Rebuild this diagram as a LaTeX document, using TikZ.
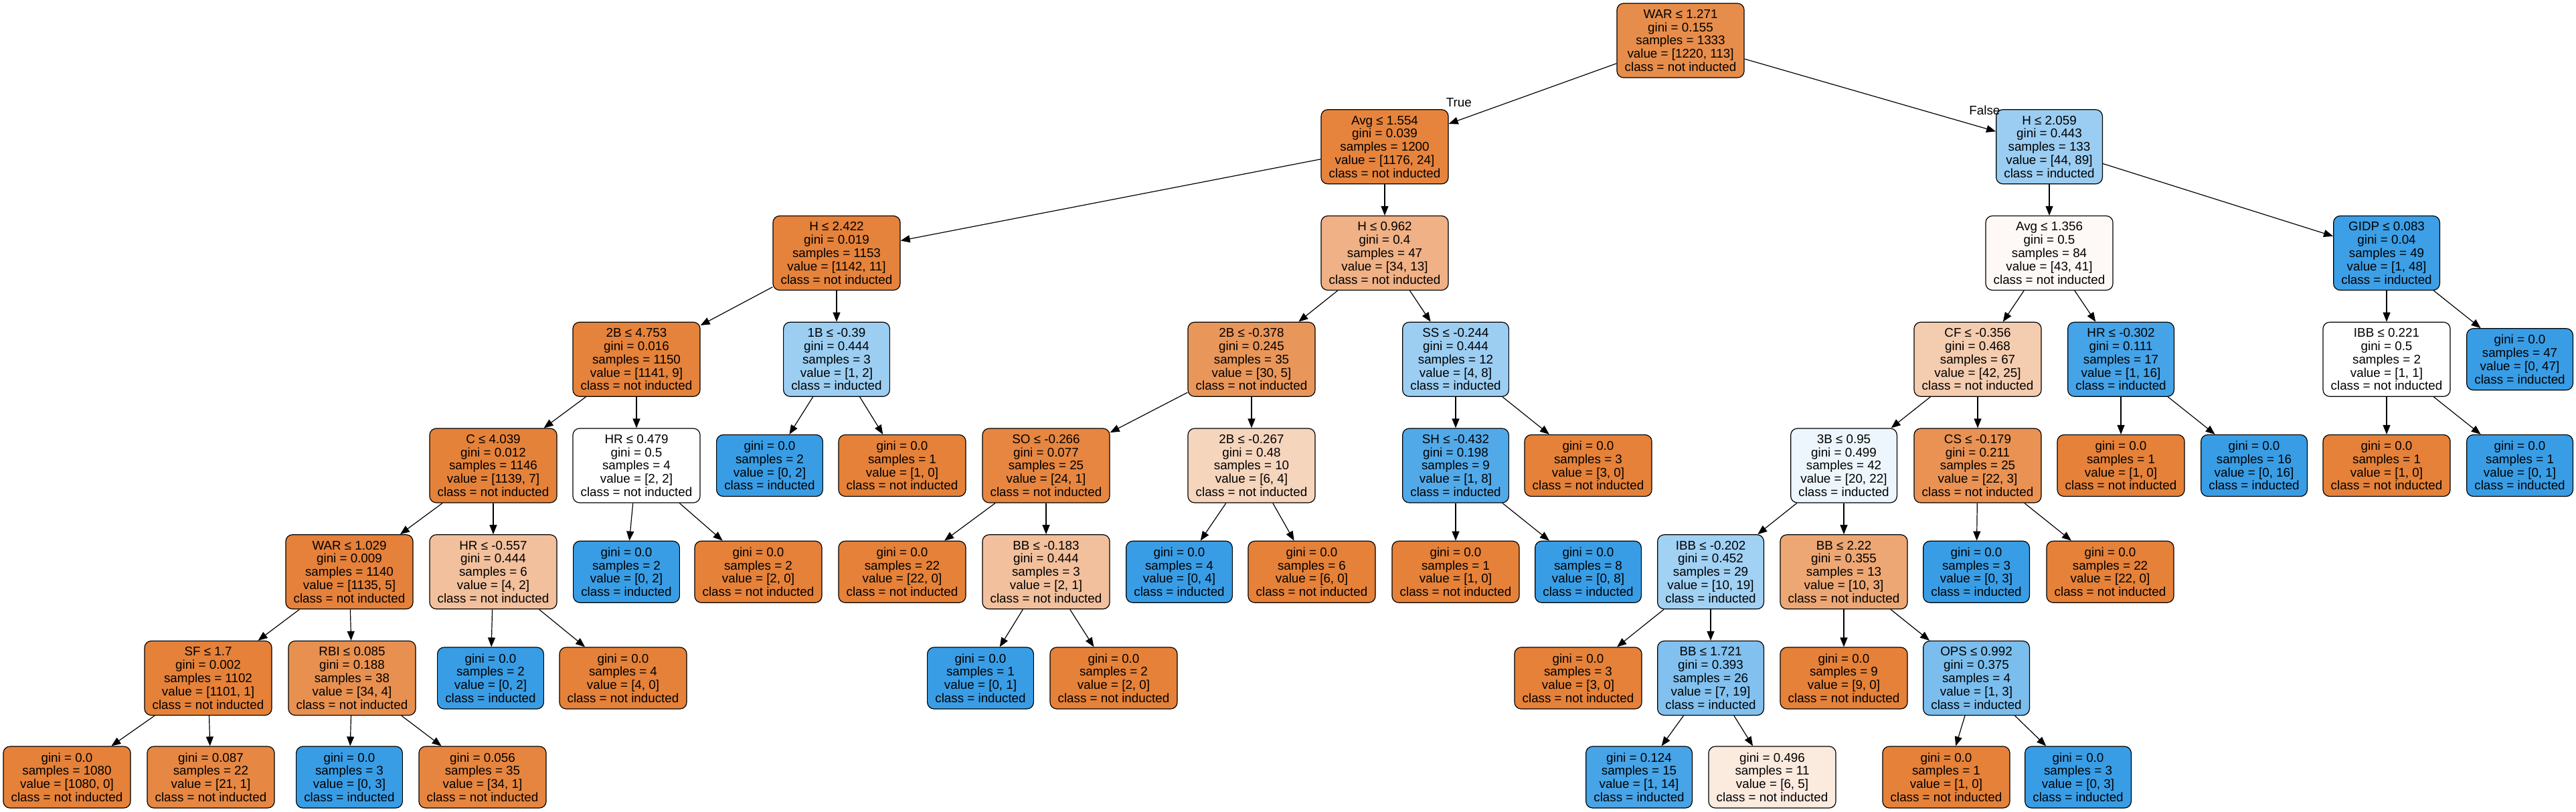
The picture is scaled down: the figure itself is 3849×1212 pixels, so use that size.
\documentclass[tikz,border=0pt]{standalone}
\usepackage{fontspec}
\setmainfont{Liberation Sans}
\usetikzlibrary{arrows.meta}
\definecolor{cno}{RGB}{229,129,57}
\definecolor{cyes}{RGB}{57,157,229}
\tikzset{notin/.style = {fill=cno!#1!white}, induct/.style = {fill=cyes!#1!white}}

\begin{document}
\begin{tikzpicture}[x=0.5pt, y=-0.5pt, semithick, >={Triangle[length=7pt, width=5.5pt]},
  main/.style = {draw, rounded corners=5pt, line width=0.6pt, align=center, inner xsep=5.85pt, font=\fontsize{9.4pt}{9.9pt}\selectfont},
  split/.style = {main, minimum height=55.5pt},
  leaf/.style = {main, minimum height=46pt},
  lbl/.style = {inner sep=0pt, font=\fontsize{9.4pt}{9.9pt}\selectfont}]
\useasboundingbox (0,0) rectangle (3849,1212);

\node[split, notin=90.7] (0) at (2511, 60.5) {WAR ≤ 1.271\\gini = 0.155\\samples = 1333\\value = [1220, 113]\\class = not inducted};

\node[split, notin=98] (1) at (2069, 219.25) {Avg ≤ 1.554\\gini = 0.039\\samples = 1200\\value = [1176, 24]\\class = not inducted};
\node[split, induct=50.6] (36) at (3062, 219.25) {H ≤ 2.059\\gini = 0.443\\samples = 133\\value = [44, 89]\\class = inducted};

\node[split, notin=99] (2) at (1250, 378) {H ≤ 2.422\\gini = 0.019\\samples = 1153\\value = [1142, 11]\\class = not inducted};
\node[split, notin=61.8] (21) at (2069, 378) {H ≤ 0.962\\gini = 0.4\\samples = 47\\value = [34, 13]\\class = not inducted};
\node[split, notin=4.7] (37) at (3062, 378) {Avg ≤ 1.356\\gini = 0.5\\samples = 84\\value = [43, 41]\\class = not inducted};
\node[split, induct=97.9] (56) at (3566, 378) {GIDP ≤ 0.083\\gini = 0.04\\samples = 49\\value = [1, 48]\\class = inducted};

\node[split, notin=99.2] (3) at (951, 536.75) {2B ≤ 4.753\\gini = 0.016\\samples = 1150\\value = [1141, 9]\\class = not inducted};
\node[split, induct=50] (18) at (1250, 536.75) {1B ≤ -0.39\\gini = 0.444\\samples = 3\\value = [1, 2]\\class = inducted};
\node[split, notin=83.3] (22) at (1870, 536.75) {2B ≤ -0.378\\gini = 0.245\\samples = 35\\value = [30, 5]\\class = not inducted};
\node[split, induct=50] (31) at (2175, 536.75) {SS ≤ -0.244\\gini = 0.444\\samples = 12\\value = [4, 8]\\class = inducted};
\node[split, notin=40.5] (38) at (2955, 536.75) {CF ≤ -0.356\\gini = 0.468\\samples = 67\\value = [42, 25]\\class = not inducted};
\node[split, induct=93.8] (53) at (3169, 536.75) {HR ≤ -0.302\\gini = 0.111\\samples = 17\\value = [1, 16]\\class = inducted};
\node[split, notin=0] (57) at (3566, 536.75) {IBB ≤ 0.221\\gini = 0.5\\samples = 2\\value = [1, 1]\\class = not inducted};
\node[leaf, induct=100] (60) at (3765, 536.75) {gini = 0.0\\samples = 47\\value = [0, 47]\\class = inducted};

\node[split, notin=99.4] (4) at (737, 695.5) {C ≤ 4.039\\gini = 0.012\\samples = 1146\\value = [1139, 7]\\class = not inducted};
\node[split, notin=0] (15) at (951, 695.5) {HR ≤ 0.479\\gini = 0.5\\samples = 4\\value = [2, 2]\\class = not inducted};
\node[leaf, induct=100] (19) at (1150, 695.5) {gini = 0.0\\samples = 2\\value = [0, 2]\\class = inducted};
\node[leaf, notin=100] (20) at (1348, 695.5) {gini = 0.0\\samples = 1\\value = [1, 0]\\class = not inducted};
\node[split, notin=95.8] (23) at (1563, 695.5) {SO ≤ -0.266\\gini = 0.077\\samples = 25\\value = [24, 1]\\class = not inducted};
\node[split, notin=33.3] (28) at (1870, 695.5) {2B ≤ -0.267\\gini = 0.48\\samples = 10\\value = [6, 4]\\class = not inducted};
\node[split, induct=87.5] (32) at (2175, 695.5) {SH ≤ -0.432\\gini = 0.198\\samples = 9\\value = [1, 8]\\class = inducted};
\node[leaf, notin=100] (35) at (2373, 695.5) {gini = 0.0\\samples = 3\\value = [3, 0]\\class = not inducted};
\node[split, induct=9.1] (39) at (2755, 695.5) {3B ≤ 0.95\\gini = 0.499\\samples = 42\\value = [20, 22]\\class = inducted};
\node[split, notin=86.4] (50) at (2955, 695.5) {CS ≤ -0.179\\gini = 0.211\\samples = 25\\value = [22, 3]\\class = not inducted};
\node[leaf, notin=100] (54) at (3169, 695.5) {gini = 0.0\\samples = 1\\value = [1, 0]\\class = not inducted};
\node[leaf, induct=100] (55) at (3368, 695.5) {gini = 0.0\\samples = 16\\value = [0, 16]\\class = inducted};
\node[leaf, notin=100] (58) at (3566, 695.5) {gini = 0.0\\samples = 1\\value = [1, 0]\\class = not inducted};
\node[leaf, induct=100] (59) at (3765, 695.5) {gini = 0.0\\samples = 1\\value = [0, 1]\\class = inducted};

\node[split, notin=99.6] (5) at (522, 854.25) {WAR ≤ 1.029\\gini = 0.009\\samples = 1140\\value = [1135, 5]\\class = not inducted};
\node[split, notin=50] (12) at (737, 854.25) {HR ≤ -0.557\\gini = 0.444\\samples = 6\\value = [4, 2]\\class = not inducted};
\node[leaf, induct=100] (16) at (936, 854.25) {gini = 0.0\\samples = 2\\value = [0, 2]\\class = inducted};
\node[leaf, notin=100] (17) at (1133, 854.25) {gini = 0.0\\samples = 2\\value = [2, 0]\\class = not inducted};
\node[leaf, notin=100] (24) at (1348, 854.25) {gini = 0.0\\samples = 22\\value = [22, 0]\\class = not inducted};
\node[split, notin=50] (25) at (1563, 854.25) {BB ≤ -0.183\\gini = 0.444\\samples = 3\\value = [2, 1]\\class = not inducted};
\node[leaf, induct=100] (29) at (1762, 854.25) {gini = 0.0\\samples = 4\\value = [0, 4]\\class = inducted};
\node[leaf, notin=100] (30) at (1960, 854.25) {gini = 0.0\\samples = 6\\value = [6, 0]\\class = not inducted};
\node[leaf, notin=100] (33) at (2175, 854.25) {gini = 0.0\\samples = 1\\value = [1, 0]\\class = not inducted};
\node[leaf, induct=100] (34) at (2373, 854.25) {gini = 0.0\\samples = 8\\value = [0, 8]\\class = inducted};
\node[split, induct=47.4] (40) at (2556, 854.25) {IBB ≤ -0.202\\gini = 0.452\\samples = 29\\value = [10, 19]\\class = inducted};
\node[split, notin=70] (45) at (2755, 854.25) {BB ≤ 2.22\\gini = 0.355\\samples = 13\\value = [10, 3]\\class = not inducted};
\node[leaf, induct=100] (51) at (2953, 854.25) {gini = 0.0\\samples = 3\\value = [0, 3]\\class = inducted};
\node[leaf, notin=100] (52) at (3153, 854.25) {gini = 0.0\\samples = 22\\value = [22, 0]\\class = not inducted};

\node[split, notin=99.9] (6) at (311, 1013) {SF ≤ 1.7\\gini = 0.002\\samples = 1102\\value = [1101, 1]\\class = not inducted};
\node[split, notin=88.2] (9) at (526, 1013) {RBI ≤ 0.085\\gini = 0.188\\samples = 38\\value = [34, 4]\\class = not inducted};
\node[leaf, induct=100] (13) at (733, 1013) {gini = 0.0\\samples = 2\\value = [0, 2]\\class = inducted};
\node[leaf, notin=100] (14) at (931, 1013) {gini = 0.0\\samples = 4\\value = [4, 0]\\class = not inducted};
\node[leaf, induct=100] (26) at (1465, 1013) {gini = 0.0\\samples = 1\\value = [0, 1]\\class = inducted};
\node[leaf, notin=100] (27) at (1664, 1013) {gini = 0.0\\samples = 2\\value = [2, 0]\\class = not inducted};
\node[leaf, notin=100] (41) at (2358, 1013) {gini = 0.0\\samples = 3\\value = [3, 0]\\class = not inducted};
\node[split, induct=63.2] (42) at (2556, 1013) {BB ≤ 1.721\\gini = 0.393\\samples = 26\\value = [7, 19]\\class = inducted};
\node[leaf, notin=100] (46) at (2755, 1013) {gini = 0.0\\samples = 9\\value = [9, 0]\\class = not inducted};
\node[split, induct=66.7] (47) at (2953, 1013) {OPS ≤ 0.992\\gini = 0.375\\samples = 4\\value = [1, 3]\\class = inducted};

\node[leaf, notin=100] (7) at (100, 1161) {gini = 0.0\\samples = 1080\\value = [1080, 0]\\class = not inducted};
\node[leaf, notin=95.2] (8) at (315, 1161) {gini = 0.087\\samples = 22\\value = [21, 1]\\class = not inducted};
\node[leaf, induct=100] (10) at (522, 1161) {gini = 0.0\\samples = 3\\value = [0, 3]\\class = inducted};
\node[leaf, notin=97.1] (11) at (721, 1161) {gini = 0.056\\samples = 35\\value = [34, 1]\\class = not inducted};
\node[leaf, induct=92.9] (43) at (2449, 1161) {gini = 0.124\\samples = 15\\value = [1, 14]\\class = inducted};
\node[leaf, notin=16.7] (44) at (2648, 1161) {gini = 0.496\\samples = 11\\value = [6, 5]\\class = not inducted};
\node[leaf, notin=100] (48) at (2908, 1161) {gini = 0.0\\samples = 1\\value = [1, 0]\\class = not inducted};
\node[leaf, induct=100] (49) at (3105, 1161) {gini = 0.0\\samples = 3\\value = [0, 3]\\class = inducted};

\draw[->] (0) -- node[lbl, pos=0.908, above=8.4pt, xshift=-4pt] {True} (1);
\draw[->] (0) -- node[lbl, pos=0.937, above=8.6pt, xshift=3.5pt] {False} (36);

\draw[->] (1) -- (2);
\draw[->] (1) -- (21);
\draw[->] (2) -- (3);
\draw[->] (2) -- (18);
\draw[->] (3) -- (4);
\draw[->] (3) -- (15);
\draw[->] (4) -- (5);
\draw[->] (4) -- (12);
\draw[->] (5) -- (6);
\draw[->] (5) -- (9);
\draw[->] (6) -- (7);
\draw[->] (6) -- (8);
\draw[->] (9) -- (10);
\draw[->] (9) -- (11);
\draw[->] (12) -- (13);
\draw[->] (12) -- (14);
\draw[->] (15) -- (16);
\draw[->] (15) -- (17);
\draw[->] (18) -- (19);
\draw[->] (18) -- (20);

\draw[->] (21) -- (22);
\draw[->] (21) -- (31);
\draw[->] (22) -- (23);
\draw[->] (22) -- (28);
\draw[->] (23) -- (24);
\draw[->] (23) -- (25);
\draw[->] (25) -- (26);
\draw[->] (25) -- (27);
\draw[->] (28) -- (29);
\draw[->] (28) -- (30);
\draw[->] (31) -- (32);
\draw[->] (31) -- (35);
\draw[->] (32) -- (33);
\draw[->] (32) -- (34);

\draw[->] (36) -- (37);
\draw[->] (36) -- (56);
\draw[->] (37) -- (38);
\draw[->] (37) -- (53);
\draw[->] (38) -- (39);
\draw[->] (38) -- (50);
\draw[->] (39) -- (40);
\draw[->] (39) -- (45);
\draw[->] (40) -- (41);
\draw[->] (40) -- (42);
\draw[->] (42) -- (43);
\draw[->] (42) -- (44);
\draw[->] (45) -- (46);
\draw[->] (45) -- (47);
\draw[->] (47) -- (48);
\draw[->] (47) -- (49);
\draw[->] (50) -- (51);
\draw[->] (50) -- (52);
\draw[->] (53) -- (54);
\draw[->] (53) -- (55);
\draw[->] (56) -- (57);
\draw[->] (56) -- (60);
\draw[->] (57) -- (58);
\draw[->] (57) -- (59);
\end{tikzpicture}
\end{document}
